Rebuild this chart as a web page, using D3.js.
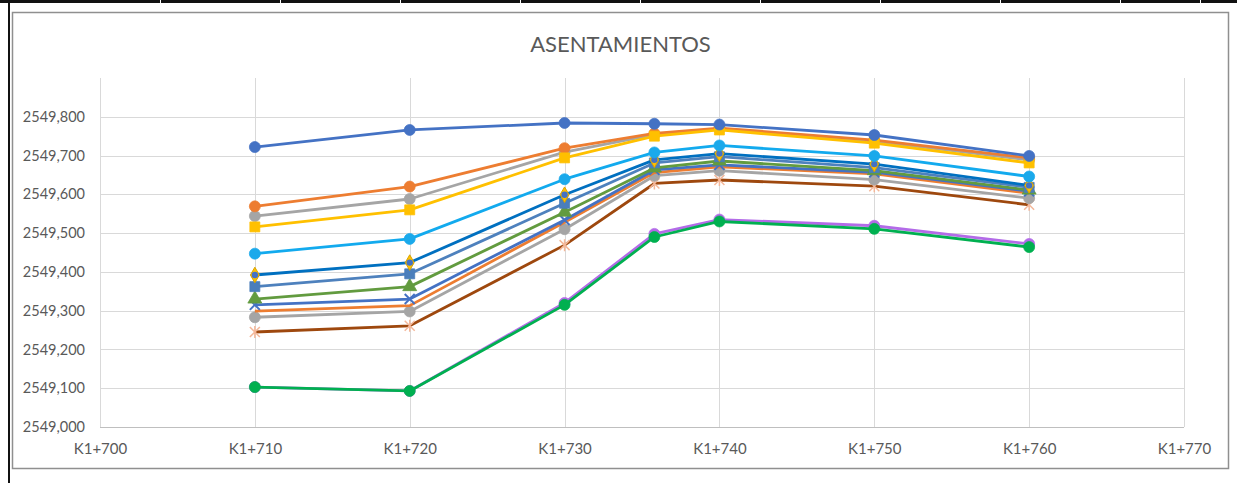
<!DOCTYPE html>
<html>
<head>
<meta charset="utf-8">
<script src="https://cdn.jsdelivr.net/npm/d3@7/dist/d3.min.js"></script>
<style>
  html, body { margin: 0; padding: 0; background: #fff; }
  svg { display: block; }
  text { font-family: Lato, "Open Sans", "Liberation Sans", sans-serif; fill: #595959; }
</style>
</head>
<body>
<svg id="chart" width="1237" height="483"></svg>
<script>
// ---- data (elevations) ----
const title = "ASENTAMIENTOS";
const stations = [710, 720, 730, 735.8, 740, 750, 760];
const xTicks = [700, 710, 720, 730, 740, 750, 760, 770];
const yTicks = [2549.0, 2549.1, 2549.2, 2549.3, 2549.4, 2549.5, 2549.6, 2549.7, 2549.8];

const s1  = [2549.722, 2549.766, 2549.784, 2549.782, 2549.780, 2549.753, 2549.699];
const s2  = [2549.569, 2549.620, 2549.719, 2549.757, 2549.771, 2549.740, 2549.694];
const s3  = [2549.544, 2549.588, 2549.709, 2549.754, 2549.768, 2549.737, 2549.689];
const s4  = [2549.516, 2549.560, 2549.694, 2549.750, 2549.766, 2549.732, 2549.681];
const s5  = [2549.447, 2549.485, 2549.639, 2549.708, 2549.726, 2549.699, 2549.646];
const s6  = [2549.392, 2549.424, 2549.599, 2549.689, 2549.705, 2549.678, 2549.623];
const s7  = [2549.362, 2549.395, 2549.577, 2549.681, 2549.697, 2549.669, 2549.618];
const s8  = [2549.330, 2549.362, 2549.554, 2549.668, 2549.686, 2549.661, 2549.611];
const s9  = [2549.315, 2549.330, 2549.534, 2549.663, 2549.676, 2549.657, 2549.608];
const s10 = [2549.299, 2549.313, 2549.528, 2549.656, 2549.671, 2549.653, 2549.603];
const s11 = [2549.283, 2549.298, 2549.510, 2549.648, 2549.661, 2549.638, 2549.590];
const s12 = [2549.245, 2549.261, 2549.469, 2549.628, 2549.637, 2549.621, 2549.573];
const s13 = [2549.103, 2549.093, 2549.320, 2549.498, 2549.535, 2549.519, 2549.472];
const s14 = [2549.103, 2549.093, 2549.315, 2549.490, 2549.530, 2549.511, 2549.464];

// ---- styles ----
const series = [
  { v: s12, line: "#9E480E", marker: "asterisk", mfill: "#F4B89A" },
  { v: s11, line: "#A5A5A5", marker: "circle", mfill: "#A5A5A5" },
  { v: s10, line: "#ED7D31", marker: "none" },
  { v: s9,  line: "#4472C4", marker: "x", mfill: "#4472C4" },
  { v: s8,  line: "#629B3F", marker: "triangle", mfill: "#629B3F" },
  { v: s7,  line: "#4E81BD", marker: "square", mfill: "#4A7EBB" },
  { v: s6,  line: "#0070C0", marker: "diamond", mfill: "#4472C4", mstroke: "#D9A400" },
  { v: s5,  line: "#12AAEE", marker: "circle", mfill: "#1AA9EB" },
  { v: s3,  line: "#A5A5A5", marker: "circle", mfill: "#A5A5A5" },
  { v: s2,  line: "#ED7D31", marker: "circle", mfill: "#ED7D31" },
  { v: s4,  line: "#FFC000", marker: "square", mfill: "#FFC000" },
  { v: s1,  line: "#4472C4", marker: "circle", mfill: "#4472C4" },
  { v: s13, line: "#B36BE8", marker: "circle", mfill: "#B36BE8" },
  { v: s14, line: "#00B050", marker: "circle", mfill: "#00B050" }
];

const svg = d3.select("#chart");
const W = 1237, H = 483;

// spreadsheet surroundings
svg.append("rect").attr("x", 0).attr("y", 0).attr("width", W).attr("height", 3).attr("fill", "#111");
[160, 280, 400, 520, 640, 760, 880, 1000, 1120, 1200].forEach(cx => {
  svg.append("rect").attr("x", cx).attr("y", 0).attr("width", 1).attr("height", 3).attr("fill", "#fff");
});
svg.append("rect").attr("x", 8).attr("y", 0).attr("width", 2).attr("height", H).attr("fill", "#111");

// chart area
svg.append("rect").attr("x", 12.5).attr("y", 12.5).attr("width", 1216).attr("height", 456)
  .attr("fill", "#fff").attr("stroke", "#8f8f8f").attr("stroke-width", 1.5);

const x = d3.scaleLinear().domain([700, 770]).range([100, 1184]);
const y = d3.scaleLinear().domain([2549.0, 2549.9]).range([427, 78]);

const locale = d3.formatLocale({ decimal: ",", thousands: ".", grouping: [3], currency: ["", ""] });
const fmtY = locale.format(".3f");

// gridlines
const g = svg.append("g");
g.selectAll("line.hg").data(yTicks.slice(1)).join("line")
  .attr("x1", x(700)).attr("x2", x(770))
  .attr("y1", d => Math.round(y(d)) + 0.5).attr("y2", d => Math.round(y(d)) + 0.5)
  .attr("stroke", "#D9D9D9").attr("stroke-width", 1);
g.selectAll("line.vg").data(xTicks).join("line")
  .attr("x1", d => Math.round(x(d)) + 0.5).attr("x2", d => Math.round(x(d)) + 0.5)
  .attr("y1", y(2549.9)).attr("y2", y(2549.0))
  .attr("stroke", "#D9D9D9").attr("stroke-width", 1);

// x axis line
svg.append("line").attr("x1", x(700)).attr("x2", x(770))
  .attr("y1", Math.round(y(2549.0)) + 0.5).attr("y2", Math.round(y(2549.0)) + 0.5)
  .attr("stroke", "#BFBFBF").attr("stroke-width", 1);

// axes labels via d3 axes (no domain/tick lines)
const yAxis = d3.axisLeft(y).tickValues(yTicks).tickFormat(fmtY).tickSize(0).tickPadding(15);
const ya = svg.append("g").attr("transform", `translate(${x(700)},0)`).call(yAxis);
ya.select(".domain").remove();
ya.selectAll("text").style("font-size", "14.5px").attr("fill", "#595959");

const xAxis = d3.axisBottom(x).tickValues(xTicks).tickFormat(d => "K1+" + d).tickSize(0).tickPadding(16);
const xa = svg.append("g").attr("transform", `translate(0,${y(2549.0)})`).call(xAxis);
xa.select(".domain").remove();
xa.selectAll("text").style("font-size", "15px").attr("fill", "#595959");

// title
svg.append("text").attr("x", 620.5).attr("y", 52).attr("text-anchor", "middle")
  .style("font-size", "22px").attr("fill", "#595959").text(title);

// series
const lineGen = d3.line().x((d, i) => x(stations[i])).y(d => y(d));
const sym = {
  circle: d3.symbol().type(d3.symbolCircle).size(95),
  square: d3.symbol().type(d3.symbolSquare).size(100),
  diamond: d3.symbol().type(d3.symbolDiamond).size(70),
  triangle: d3.symbol().type(d3.symbolTriangle).size(85)
};

series.forEach(s => {
  const sg = svg.append("g");
  sg.append("path").attr("d", lineGen(s.v)).attr("fill", "none")
    .attr("stroke", s.line).attr("stroke-width", 2.8).attr("stroke-linejoin", "round");
  if (s.marker === "none") return;
  const pts = sg.selectAll("g.m").data(s.v).join("g")
    .attr("transform", (d, i) => `translate(${x(stations[i])},${y(d)})`);
  if (s.marker === "diamond") {
    pts.append("path").attr("d", sym.diamond())
      .attr("fill", "#FFC000").attr("stroke", s.mstroke).attr("stroke-width", 1);
    pts.append("circle").attr("r", 3.2).attr("fill", s.mfill);
  } else if (sym[s.marker]) {
    pts.append("path").attr("d", sym[s.marker]())
      .attr("fill", s.mfill)
      .attr("stroke", s.mfill).attr("stroke-width", 0.75);
  } else if (s.marker === "x") {
    pts.append("path").attr("d", "M-5,-5L5,5M-5,5L5,-5")
      .attr("stroke", s.mfill).attr("stroke-width", 2).attr("fill", "none");
  } else if (s.marker === "asterisk") {
    pts.append("path").attr("d", "M-5,-5L5,5M-5,5L5,-5M0,-6L0,6")
      .attr("stroke", s.mfill).attr("stroke-width", 1.5).attr("fill", "none");
  }
});
</script>
</body>
</html>
